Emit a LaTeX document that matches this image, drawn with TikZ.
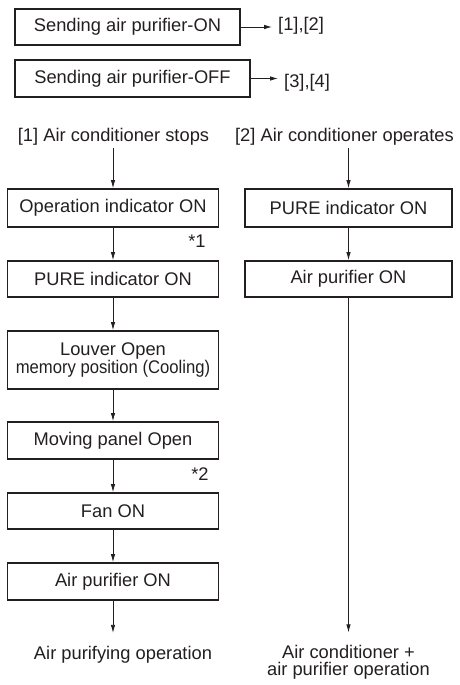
\documentclass[tikz,border=0pt]{standalone}
\usepackage{fontspec}
\setmainfont{Liberation Sans}
\usetikzlibrary{arrows.meta}
\definecolor{ink}{HTML}{231F20}

\begin{document}
\begin{tikzpicture}[x=1pt,y=-1pt,font=\fontsize{18.3}{17}\selectfont,color=ink,
  stepbox/.style={draw=ink,line width=1.8pt,minimum height=37pt,align=center,inner sep=2pt},
  head/.style={inner sep=0pt,outer sep=2.5pt},
  result/.style={align=center,inner sep=0pt,outer sep=13pt},
  flow/.style={-{Latex[length=8pt,width=4.5pt]},draw=ink,line width=0.8pt}]
\useasboundingbox (0,0) rectangle (460,685);
% sending commands
\node[stepbox,minimum width=225pt,minimum height=36pt] (sendon) at (127.5,27) {Sending air purifier-ON};
\node[stepbox,minimum width=235pt] (sendoff) at (132.5,78.5) {Sending air purifier-OFF};
\node[anchor=west,inner sep=0pt] (lblon) at (278,26) {[1],[2]};
\node[anchor=west,inner sep=0pt] (lbloff) at (284,83) {[3],[4]};
\draw[flow] (sendon.east) -- ([xshift=-6pt]sendon.east -| lblon.west);
\draw[flow] (sendoff.east) -- ([xshift=-6pt]sendoff.east -| lbloff.west);
% [1] air conditioner stops
\node[head] (stops) at (113.5,136.5) {[1] Air conditioner stops};
\node[stepbox,minimum width=211pt,minimum height=38pt] (opind) at (113,208) {Operation indicator ON};
\node[stepbox,minimum width=211pt,minimum height=36pt] (pureind) at (113,279) {PURE indicator ON};
\node[stepbox,minimum width=211pt,minimum height=58pt] (louver) at (113,360) {Louver Open\\\scalebox{0.91}[1]{memory position (Cooling)}};
\node[stepbox,minimum width=211pt] (panel) at (113,440.5) {Moving panel Open};
\node[stepbox,minimum width=211pt,minimum height=36pt] (fan) at (113,511) {Fan ON};
\node[stepbox,minimum width=211pt] (purifier) at (113,581.5) {Air purifier ON};
\node[result] (purifying) at (123,654.4) {Air purifying operation};
\node (note1) at (197,241.5) {*1};
\node (note2) at (200,474) {*2};
\draw[flow] (stops.south -| opind.north) -- (opind.north);
\draw[flow] (opind) -- (pureind);
\draw[flow] (pureind) -- (louver);
\draw[flow] (louver) -- (panel);
\draw[flow] (panel) -- (fan);
\draw[flow] (fan) -- (purifier);
\draw[flow] (purifier.south) -- (purifier.south |- purifying.north);
% [2] air conditioner operates
\node[head] (operates) at (344.5,136.5) {[2] Air conditioner operates};
\node[stepbox,minimum width=207pt,minimum height=38pt] (pureind2) at (348.5,208) {PURE indicator ON};
\node[stepbox,minimum width=207pt,minimum height=36pt] (purifier2) at (348.5,279) {Air purifier ON};
\node[result] (combined) at (348.5,662.4) {Air conditioner +\\air purifier operation};
\draw[flow] (operates.south -| pureind2.north) -- (pureind2.north);
\draw[flow] (pureind2) -- (purifier2);
\draw[flow] (purifier2.south) -- (purifier2.south |- combined.north);
\end{tikzpicture}
\end{document}
